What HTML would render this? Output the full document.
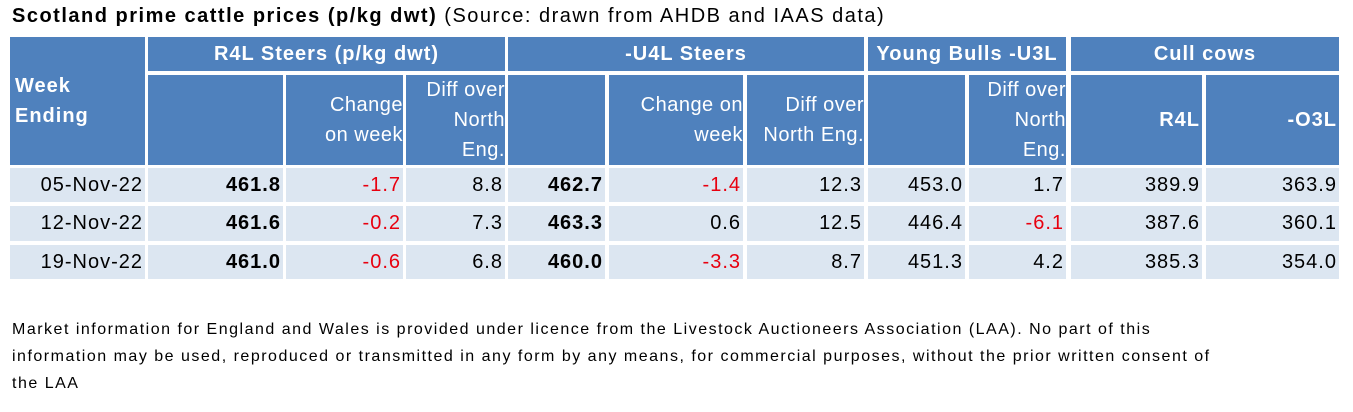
<!DOCTYPE html>
<html><head><meta charset="utf-8"><style>
body{margin:0;width:1353px;height:412px;background:#fff;font-family:"Liberation Sans",Arial,sans-serif;position:relative;overflow:hidden}
.c{position:absolute;box-sizing:border-box;display:flex;align-items:center;justify-content:flex-end;padding-right:2px;font-size:20px;letter-spacing:1px;text-align:right;white-space:nowrap}
.h{background:#4F81BD;color:#fff;line-height:30px}
.hb{font-weight:bold;justify-content:center;padding:0}
.d{background:#DCE6F1;color:#000}
.b{font-weight:bold}.r{color:#E8000F}
#title{position:absolute;left:12px;top:5px;font-size:20px;letter-spacing:1.5px;white-space:nowrap}
#foot{position:absolute;left:12px;top:316px;font-size:16px;letter-spacing:1.5px;line-height:27px;white-space:nowrap}
</style></head><body>
<div id="title"><b>Scotland prime cattle prices (p/kg dwt)</b> (Source: drawn from AHDB and IAAS data)</div>

<div class="c h b" style="left:10px;top:37px;width:135px;height:128px;justify-content:flex-start;padding-left:5px;text-align:left;line-height:30px">Week<br>Ending</div>
<div class="c h hb" style="left:148px;top:37px;width:357px;height:34px">R4L Steers (p/kg dwt)</div>
<div class="c h hb" style="left:508px;top:37px;width:356px;height:34px">-U4L Steers</div>
<div class="c h hb" style="left:868px;top:37px;width:198px;height:34px">Young Bulls -U3L</div>
<div class="c h hb" style="left:1071px;top:37px;width:268px;height:34px">Cull cows</div>

<div class="c h" style="left:148px;top:75px;width:135px;height:90px"></div>
<div class="c h" style="left:286px;top:75px;width:117px;height:90px;padding-right:0;letter-spacing:0.5px">Change<br>on week</div>
<div class="c h" style="left:406px;top:75px;width:99px;height:90px;padding-right:0;letter-spacing:0.5px">Diff over<br>North<br>Eng.</div>
<div class="c h" style="left:508px;top:75px;width:97px;height:90px"></div>
<div class="c h" style="left:609px;top:75px;width:134px;height:90px;padding-right:0;letter-spacing:0.5px">Change on<br>week</div>
<div class="c h" style="left:747px;top:75px;width:117px;height:90px;padding-right:0;letter-spacing:0.5px">Diff over<br>North Eng.</div>
<div class="c h" style="left:868px;top:75px;width:97px;height:90px"></div>
<div class="c h" style="left:969px;top:75px;width:97px;height:90px;padding-right:0;letter-spacing:0.5px">Diff over<br>North<br>Eng.</div>
<div class="c h b" style="left:1071px;top:75px;width:131px;height:90px">R4L</div>
<div class="c h b" style="left:1206px;top:75px;width:133px;height:90px">-O3L</div>

<div class="c d" style="left:10px;top:168px;width:135px;height:34px">05-Nov-22</div>
<div class="c d b" style="left:148px;top:168px;width:135px;height:34px">461.8</div>
<div class="c d r" style="left:286px;top:168px;width:117px;height:34px">-1.7</div>
<div class="c d" style="left:406px;top:168px;width:99px;height:34px">8.8</div>
<div class="c d b" style="left:508px;top:168px;width:97px;height:34px">462.7</div>
<div class="c d r" style="left:609px;top:168px;width:134px;height:34px">-1.4</div>
<div class="c d" style="left:747px;top:168px;width:117px;height:34px">12.3</div>
<div class="c d" style="left:868px;top:168px;width:97px;height:34px">453.0</div>
<div class="c d" style="left:969px;top:168px;width:97px;height:34px">1.7</div>
<div class="c d" style="left:1071px;top:168px;width:131px;height:34px">389.9</div>
<div class="c d" style="left:1206px;top:168px;width:133px;height:34px">363.9</div>

<div class="c d" style="left:10px;top:206px;width:135px;height:35px">12-Nov-22</div>
<div class="c d b" style="left:148px;top:206px;width:135px;height:35px">461.6</div>
<div class="c d r" style="left:286px;top:206px;width:117px;height:35px">-0.2</div>
<div class="c d" style="left:406px;top:206px;width:99px;height:35px">7.3</div>
<div class="c d b" style="left:508px;top:206px;width:97px;height:35px">463.3</div>
<div class="c d" style="left:609px;top:206px;width:134px;height:35px">0.6</div>
<div class="c d" style="left:747px;top:206px;width:117px;height:35px">12.5</div>
<div class="c d" style="left:868px;top:206px;width:97px;height:35px">446.4</div>
<div class="c d r" style="left:969px;top:206px;width:97px;height:35px">-6.1</div>
<div class="c d" style="left:1071px;top:206px;width:131px;height:35px">387.6</div>
<div class="c d" style="left:1206px;top:206px;width:133px;height:35px">360.1</div>

<div class="c d" style="left:10px;top:245px;width:135px;height:34px">19-Nov-22</div>
<div class="c d b" style="left:148px;top:245px;width:135px;height:34px">461.0</div>
<div class="c d r" style="left:286px;top:245px;width:117px;height:34px">-0.6</div>
<div class="c d" style="left:406px;top:245px;width:99px;height:34px">6.8</div>
<div class="c d b" style="left:508px;top:245px;width:97px;height:34px">460.0</div>
<div class="c d r" style="left:609px;top:245px;width:134px;height:34px">-3.3</div>
<div class="c d" style="left:747px;top:245px;width:117px;height:34px">8.7</div>
<div class="c d" style="left:868px;top:245px;width:97px;height:34px">451.3</div>
<div class="c d" style="left:969px;top:245px;width:97px;height:34px">4.2</div>
<div class="c d" style="left:1071px;top:245px;width:131px;height:34px">385.3</div>
<div class="c d" style="left:1206px;top:245px;width:133px;height:34px">354.0</div>

<div id="foot">Market information for England and Wales is provided under licence from the Livestock Auctioneers Association (LAA). No part of this<br>information may be used, reproduced or transmitted in any form by any means, for commercial purposes, without the prior written consent of<br>the LAA</div>
</body></html>
